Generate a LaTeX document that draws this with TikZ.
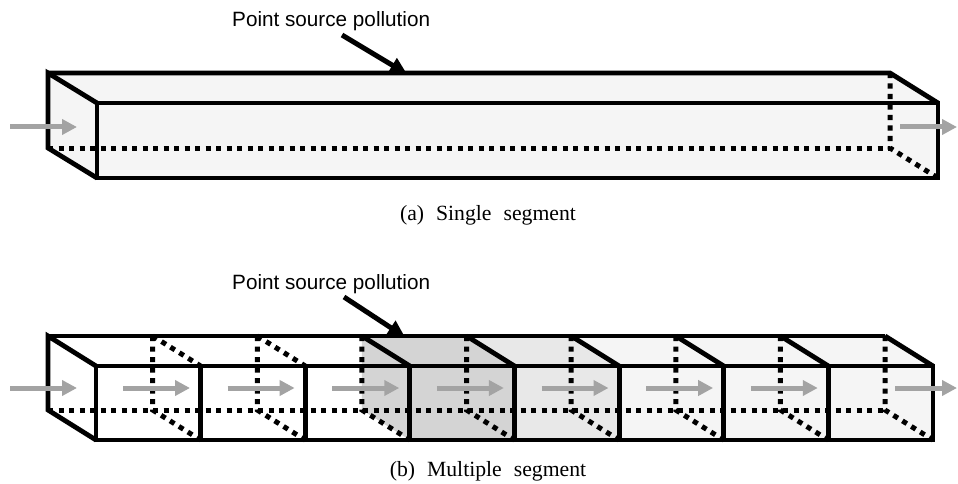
\documentclass[tikz,border=0pt]{standalone}
\usepackage{fontspec}
\newfontfamily\labelfont{Liberation Sans}
\newfontfamily\capfont{Liberation Serif}
\usetikzlibrary{arrows.meta}

\tikzset{
  edge/.style={line width=4.8pt, line join=miter},
  hidden/.style={line width=5pt, dash pattern=on 5.2pt off 5.3pt},
  flow/.style={line width=5pt, draw=black!36, -{Triangle[length=15pt,width=15pt]}},
  pointer/.style={line width=5pt, -{Triangle[length=17pt,width=16pt]}},
  srclabel/.style={anchor=base west, inner sep=0pt, font=\labelfont\fontsize{20.7}{24}\selectfont},
  caption/.style={anchor=base, inner sep=0pt, font=\capfont\fontsize{21.7}{26}\selectfont},
}

\begin{document}
\begin{tikzpicture}[x=1pt,y=-1pt]
\useasboundingbox (0,0) rectangle (958,484);
\fill[white] (0,0) rectangle (958,484);

% ---------- (a) one long segment ----------
\fill[black!4] (48,73) -- (890,73) -- (938,103) -- (938,178) -- (97,178) -- (48,148) -- cycle;
\draw[hidden] (48,148) -- (890,148);
\draw[hidden] (890,73) -- (890,148) -- (938,178);
\draw[edge] (97,103) rectangle (938,178);
\draw[edge] (97,103) -- (48,73) -- (48,148) -- (97,178);
\draw[edge] (48,73) -- (890,73) -- (938,103);

\coordinate (ainS) at (10,127);  \coordinate (ainE) at (77,127);
\coordinate (aoutS) at (900,127); \coordinate (aoutE) at (957,127);
\draw[flow] (ainS) -- (ainE);
\draw[flow] (aoutS) -- (aoutE);

\node[srclabel] (srcA) at (232,27) {Point source pollution};
\coordinate (srcAtail) at (342,35);
\coordinate (srcAtip) at (407,74);
\draw[pointer] (srcAtail) -- (srcAtip);

\node[caption] (capA) at (488,220) {(a)\hspace{12pt}Single\hspace{12pt}segment};

% ---------- (b) eight segments ----------
% shaded segments, darkest last
\foreach \k/\shade in {7/black!4, 6/black!4, 5/black!4, 4/black!9, 3/black!17}{
  \pgfmathsetmacro\bxa{48+104.625*\k}
  \pgfmathsetmacro\bxb{48+104.625*(\k+1)}
  \pgfmathsetmacro\fxa{96+104.625*\k}
  \pgfmathsetmacro\fxb{96+104.625*(\k+1)}
  \fill[\shade] (\bxa,336) -- (\bxb,336) -- (\fxb,366) -- (\fxb,440) -- (\fxa,440) -- (\bxa,410) -- cycle;
}

% hidden back edges
\draw[hidden] (48,410) -- (885,410);
\foreach \k in {1,...,8}{
  \pgfmathsetmacro\bx{48+104.625*\k}
  \pgfmathsetmacro\fx{96+104.625*\k}
  \draw[hidden] (\bx,336) -- (\bx,410) -- (\fx,440);
}
\foreach \k in {1,2}{
  \pgfmathsetmacro\bx{48+104.625*\k}
  \pgfmathsetmacro\fx{96+104.625*\k}
  \draw[hidden] (\bx,336) -- (\fx,366);
}
% visible edges
\foreach \k in {3,...,8}{
  \pgfmathsetmacro\bx{48+104.625*\k}
  \pgfmathsetmacro\fx{96+104.625*\k}
  \draw[edge] (\bx,336) -- (\fx,366);
}
\foreach \k in {1,...,7}{
  \pgfmathsetmacro\fx{96+104.625*\k}
  \draw[edge] (\fx,366) -- (\fx,440);
}
\draw[edge] (96,366) rectangle (933,440);
\draw[edge] (96,366) -- (48,336) -- (48,410) -- (96,440);
\draw[edge] (48,336) -- (885,336);

% flow arrows
\coordinate (binS) at (10,388); \coordinate (binE) at (77,388);
\draw[flow] (binS) -- (binE);
\foreach \k in {0,...,6}{
  \pgfmathsetmacro\fx{96+104.625*\k}
  \coordinate (bs\k) at (\fx+27,388);
  \coordinate (be\k) at (\fx+94,388);
  \draw[flow] (bs\k) -- (be\k);
}
\coordinate (boutS) at (895,388); \coordinate (boutE) at (957,388);
\draw[flow] (boutS) -- (boutE);

\node[srclabel] (srcB) at (232,289) {Point source pollution};
\coordinate (srcBtail) at (344,297);
\coordinate (srcBtip) at (405,337);
\draw[pointer] (srcBtail) -- (srcBtip);

\node[caption] (capB) at (488,476) {(b)\hspace{12pt}Multiple\hspace{12pt}segment};
\end{tikzpicture}
\end{document}
